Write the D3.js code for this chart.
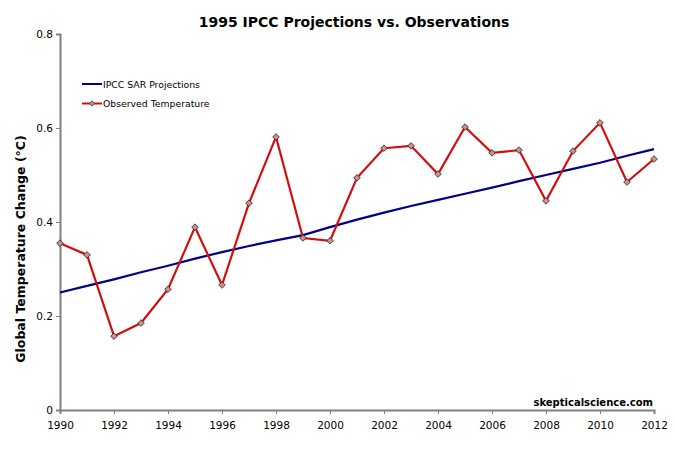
<!DOCTYPE html>
<html>
<head>
<meta charset="utf-8">
<script src="https://cdn.jsdelivr.net/npm/d3@7"></script>
<style>
  body { margin: 0; background: #fff; }
  text { font-family: "DejaVu Sans", Verdana, sans-serif; fill: #000; }
</style>
</head>
<body>
<svg id="chart"></svg>
<script>
// Chart data
var years = [1990, 1991, 1992, 1993, 1994, 1995, 1996, 1997, 1998, 1999, 2000, 2001,
             2002, 2003, 2004, 2005, 2006, 2007, 2008, 2009, 2010, 2011, 2012];
var projected = [0.250, 0.264, 0.278, 0.293, 0.307, 0.322, 0.336, 0.349, 0.361, 0.372, 0.389, 0.405,
                 0.420, 0.434, 0.447, 0.460, 0.473, 0.487, 0.500, 0.513, 0.526, 0.541, 0.555];
var observed = [0.355, 0.330, 0.157, 0.185, 0.257, 0.389, 0.266, 0.440, 0.581, 0.366, 0.360, 0.494,
                0.557, 0.562, 0.502, 0.602, 0.547, 0.553, 0.445, 0.551, 0.611, 0.485, 0.534];
var xTicks = [1990, 1992, 1994, 1996, 1998, 2000, 2002, 2004, 2006, 2008, 2010, 2012];
var yTicks = [0, 0.2, 0.4, 0.6, 0.8];
var seriesNames = ["IPCC SAR Projections", "Observed Temperature"];

var svgWidth = 675;
var svgHeight = 458;
var margin = { top: 34, right: 21, bottom: 48, left: 60 };
var chartWidth = svgWidth - margin.left - margin.right;
var chartHeight = svgHeight - margin.top - margin.bottom;

var svg = d3.select("#chart")
  .attr("width", svgWidth)
  .attr("height", svgHeight);

var chart = svg.append("g")
  .attr("transform", "translate(" + margin.left + "," + margin.top + ")");

var xScale = d3.scaleLinear().domain([1990, 2012]).range([0, chartWidth]);
var yScale = d3.scaleLinear().domain([0, 0.8]).range([chartHeight, 0]);

// Axes
var xAxis = chart.append("g")
  .attr("transform", "translate(0," + chartHeight + ")")
  .call(d3.axisBottom(xScale).tickValues(xTicks).tickFormat(d3.format("d")).tickSizeOuter(0).tickSize(4));

var yAxis = chart.append("g")
  .call(d3.axisLeft(yScale).tickValues(yTicks).tickFormat(function (d) { return d === 0 ? "0" : d3.format(".1f")(d); }).tickSizeOuter(0).tickSize(4));

[xAxis, yAxis].forEach(function (ax) {
  ax.select(".domain").attr("stroke", "#808080").attr("stroke-width", 2);
  ax.selectAll(".tick line").attr("stroke", "#808080").attr("stroke-width", 1);
  ax.selectAll(".tick text").style("font-size", "10.5px").attr("fill", "#000");
});
xAxis.selectAll(".tick text").attr("dy", "1.15em");
yAxis.selectAll(".tick text").attr("x", -7);

// Projection line
var line = d3.line()
  .x(function (d) { return xScale(d[0]); })
  .y(function (d) { return yScale(d[1]); });

chart.append("path")
  .datum(years.map(function (y, i) { return [y, projected[i]]; }))
  .attr("fill", "none")
  .attr("stroke", "#00008b")
  .attr("stroke-width", 2.2)
  .attr("d", line);

// Observed line + markers
var obsData = years.map(function (y, i) { return [y, observed[i]]; });
chart.append("path")
  .datum(obsData)
  .attr("fill", "none")
  .attr("stroke", "#d01010")
  .attr("stroke-width", 2.2)
  .attr("d", line);

var diamond = d3.symbol().type(d3.symbolDiamond2).size(28);
chart.selectAll(".marker")
  .data(obsData)
  .enter()
  .append("path")
  .attr("class", "marker")
  .attr("transform", function (d) { return "translate(" + xScale(d[0]) + "," + yScale(d[1]) + ")"; })
  .attr("d", diamond)
  .attr("fill", "#c99090")
  .attr("stroke", "#222")
  .attr("stroke-width", 0.8);

// Title
svg.append("text")
  .attr("x", 354)
  .attr("y", 27)
  .attr("text-anchor", "middle")
  .style("font-size", "14px")
  .style("font-weight", "bold")
  .text("1995 IPCC Projections vs. Observations");

// Y-axis label
svg.append("text")
  .attr("transform", "translate(25,249) rotate(-90)")
  .attr("text-anchor", "middle")
  .style("font-size", "12.5px")
  .style("font-weight", "bold")
  .text("Global Temperature Change (°C)");

// Legend
var legend = svg.append("g").attr("transform", "translate(82,84)");
seriesNames.forEach(function (name, i) {
  var g = legend.append("g").attr("transform", "translate(0," + (i * 19.5) + ")");
  g.append("line")
    .attr("x1", 0).attr("x2", 20)
    .attr("stroke", i === 0 ? "#00008b" : "#d01010")
    .attr("stroke-width", 2);
  if (i === 1) {
    g.append("path")
      .attr("transform", "translate(10,0)")
      .attr("d", d3.symbol().type(d3.symbolDiamond2).size(18))
      .attr("fill", "#c99090")
      .attr("stroke", "#222")
      .attr("stroke-width", 0.7);
  }
  g.append("text")
    .attr("x", 21)
    .attr("y", 3.5)
    .style("font-size", "9.3px")
    .text(name);
});

// Watermark
svg.append("text")
  .attr("x", 653)
  .attr("y", 406)
  .attr("text-anchor", "end")
  .style("font-size", "10px")
  .style("font-weight", "bold")
  .text("skepticalscience.com");
</script>
</body>
</html>
